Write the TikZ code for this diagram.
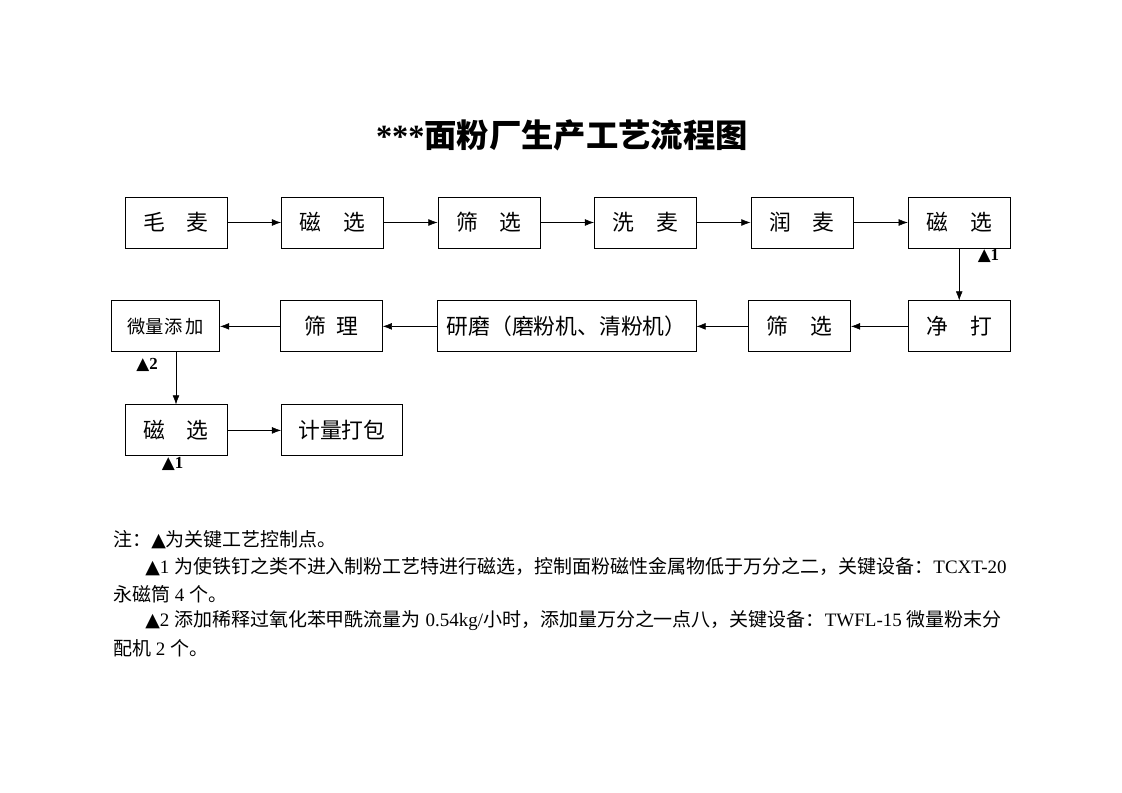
\documentclass[tikz,border=0pt]{standalone}
\usepackage{fontspec}
\setmainfont{Liberation Serif}
\newfontfamily\cjk{Noto Sans CJK SC}
\newfontfamily\sym{DejaVu Sans}
\usepackage{tikz}
\usetikzlibrary{shapes,arrows.meta}
\usetikzlibrary{positioning}
\tikzset{auto,>={Latex[length=6.5pt,width=4.8pt]}, minimum size=0pt, node distance=1.34cm, font=\fontsize{15.5}{15.5}\selectfont\cjk}
\tikzstyle{block} = [draw, fill=white, rectangle, line width=0.6pt, minimum height=1.275cm, minimum width=2.55cm, text centered, align=center]
\tikzstyle{ctrlmark} = [inner sep=0pt, font=\fontsize{12}{12}\selectfont\bfseries]
\tikzstyle{note} = [anchor=west, inner sep=0pt, font=\fontsize{13.5}{13.5}\selectfont]
\newcommand{\tri}{{\sym ▲}}

\begin{document}
\begin{tikzpicture}[x=0.025cm, y=-0.025cm]
    \useasboundingbox (0,0) rectangle (1122,793);
    \node [font=\fontsize{23}{23}\selectfont\bfseries] (title) at (562,135) {***{\cjk 面粉厂生产工艺流程图}};

    % first row
    \node [block] (maomai) at (176,222.5) {毛\hspace{1em}麦};
    \node [block, right=of maomai] (cixuan1) {磁\hspace{1em}选};
    \node [block, right=of cixuan1] (shaixuan1) {筛\hspace{1em}选};
    \node [block, right=of shaixuan1] (ximai) {洗\hspace{1em}麦};
    \node [block, right=of ximai] (runmai) {润\hspace{1em}麦};
    \node [block, right=1.36cm of runmai] (cixuan2) {磁\hspace{1em}选};
    \node [ctrlmark, below left=0.02cm and 0.28cm of cixuan2.south east] (mark1a) {\tri1};

    % second row, right to left
    \node [block, below=1.3cm of cixuan2] (jingda) {净\hspace{1em}打};
    \node [block, left=1.42cm of jingda] (shaixuan2) {筛\hspace{1em}选};
    \node [block, left=1.29cm of shaixuan2, minimum width=6.475cm] (yanmo) {研磨（磨粉机、清粉机）};
    \node [block, left=1.345cm of yanmo] (shaili) {筛\hspace{0.5em}理};
    \node [block, left=1.495cm of shaili, minimum width=2.7cm, font=\fontsize{13}{13}\selectfont\cjk] (tianjia) {微量添\,加};
    \node [ctrlmark, below right=0.15cm and 0.625cm of tianjia.south west] (mark2) {\tri2};

    % third row
    \node [block, below=3.9cm of maomai] (cixuan3) {磁\hspace{1em}选};
    \node [block, right=of cixuan3, minimum width=3.025cm] (baozhuang) {计量打包};
    \node [ctrlmark, below right=0.02cm and 0.925cm of cixuan3.south west] (mark1b) {\tri1};

    \draw [->] (maomai) -- (cixuan1);
    \draw [->] (cixuan1) -- (shaixuan1);
    \draw [->] (shaixuan1) -- (ximai);
    \draw [->] (ximai) -- (runmai);
    \draw [->] (runmai) -- (cixuan2);
    \draw [->] (cixuan2) -- (jingda);
    \draw [->] (jingda) -- (shaixuan2);
    \draw [->] (shaixuan2) -- (yanmo);
    \draw [->] (yanmo) -- (shaili);
    \draw [->] (shaili) -- (tianjia);
    \draw [->] (tianjia.south -| cixuan3.north) -- (cixuan3.north);
    \draw [->] (cixuan3) -- (baozhuang);

    % notes
    \node [note] (note1) at (113,540) {{\cjk 注：}\tri{\cjk 为关键工艺控制点。}};
    \node [note] (note2) at (145,567) {\tri1 {\cjk 为使铁钉之类不进入制粉工艺特进行磁选，控制面粉磁性金属物低于万分之二，关键设备：}TCXT-20};
    \node [note] (note3) at (113,594) {{\cjk 永磁筒} 4 {\cjk 个。}};
    \node [note] (note4) at (145,621) {\tri2 {\cjk 添加稀释过氧化苯甲酰流量为} 0.54kg/{\cjk 小时，添加量万分之一点八，关键设备：}TWFL-15 {\cjk 微量粉末分}};
    \node [note] (note5) at (113,648) {{\cjk 配机} 2 {\cjk 个。}};
\end{tikzpicture}
\end{document}
